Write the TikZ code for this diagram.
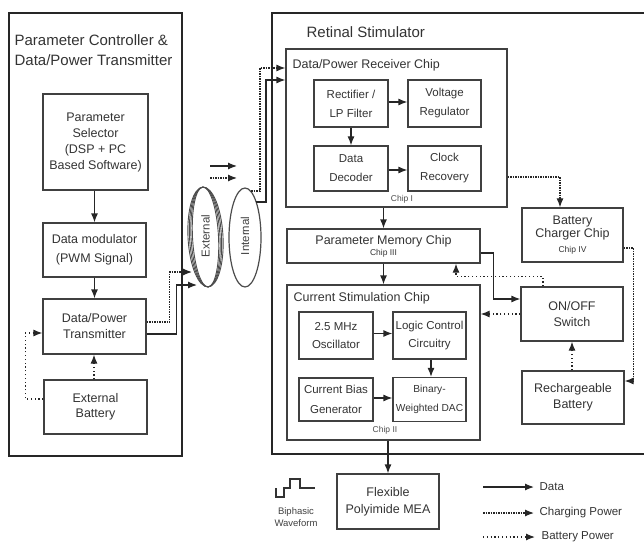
\documentclass[tikz,border=0pt]{standalone}
\usepackage{fontspec}
\setmainfont{Liberation Sans}
\usetikzlibrary{arrows.meta}

\begin{document}
\begin{tikzpicture}[x=1pt,y=-1pt,line width=1.2pt,
  >={Latex[length=9pt,width=7pt]},
  ctrlbox/.style={draw=black!85,line width=2.4pt,inner sep=0pt},
  blk/.style={draw=black!75,line width=1.2pt,align=center,inner sep=0pt,text=black!80,font=\fontsize{12.5}{16}\selectfont},
  subblk/.style={blk,font=\fontsize{11.5}{19}\selectfont},
  ttl/.style={anchor=west,align=left,inner sep=0pt,text=black!80,font=\fontsize{15}{20}\selectfont},
  chiptitle/.style={anchor=west,inner sep=0pt,text=black!80,font=\fontsize{12.5}{15}\selectfont},
  chiptag/.style={inner sep=0pt,text=black!70,font=\fontsize{8.5}{10}\selectfont},
  coiltxt/.style={rotate=90,inner sep=0pt,text=black!75,font=\fontsize{11.5}{13}\selectfont},
  legtxt/.style={anchor=west,inner sep=0pt,text=black!80,font=\fontsize{11.5}{13}\selectfont},
  datalink/.style={->,draw=black!85},
  chargelink/.style={->,draw=black!85,dash pattern=on 1.5pt off 1pt},
  battlink/.style={->,draw=black!85,dash pattern=on 1.2pt off 2.6pt}]
\clip (0,0) rectangle (644,545);
\node[ctrlbox,minimum width=173,minimum height=443] (ctrl) at (95.5,234.5) {};
\node[ctrlbox,minimum width=380,minimum height=441] (retina) at (462,233.5) {};
\node[ttl] (ctrlT) at (14,50) {Parameter Controller \&\\Data/Power Transmitter};
\node[ttl] (retinaT) at (306,32) {Retinal Stimulator};
\node[blk,minimum width=105,minimum height=96] (sel) at (95.5,142) {Parameter\\Selector\\(DSP + PC\\Based Software)};
\node[blk,minimum width=103,minimum height=54,font=\fontsize{12.5}{19}\selectfont] (mod) at (94.5,250) {Data modulator\\(PWM Signal)};
\node[blk,minimum width=103,minimum height=55] (tx) at (94.5,326.5) {Data/Power\\Transmitter};
\node[blk,minimum width=103,minimum height=54,font=\fontsize{12.5}{15}\selectfont] (bat) at (95.5,407) {External\\Battery};
\node[blk,minimum width=221,minimum height=158] (rx) at (396.5,128) {};
\node[chiptitle] (rxT) at (292,65) {Data/Power Receiver Chip};
\node[chiptag] (rxTag) at (402,199) {Chip I};
\node[subblk,minimum width=74,minimum height=47] (rect) at (351,103.5) {Rectifier /\\LP Filter};
\node[subblk,minimum width=73,minimum height=47] (vreg) at (444.5,103.5) {Voltage\\Regulator};
\node[subblk,minimum width=74,minimum height=45] (dec) at (351,168.5) {Data\\Decoder};
\node[subblk,minimum width=73,minimum height=45] (clk) at (444.5,168.5) {Clock\\Recovery};
\node[blk,minimum width=193,minimum height=34] (mem) at (383.5,246) {Parameter Memory Chip\\[-5pt]{\fontsize{8.5}{10}\selectfont Chip III}};
\node[blk,minimum width=193,minimum height=155] (stim) at (383.5,362.5) {};
\node[chiptitle] (stimT) at (293,298) {Current Stimulation Chip};
\node[chiptag] (stimTag) at (385,430) {Chip II};
\node[subblk,minimum width=74,minimum height=47,font=\fontsize{11.5}{18}\selectfont] (osc) at (336,335.5) {2.5 MHz\\Oscillator};
\node[subblk,minimum width=73,minimum height=47,font=\fontsize{11.5}{18}\selectfont] (logic) at (429.5,335.5) {Logic Control\\Circuitry};
\node[subblk,minimum width=74,minimum height=43,font=\fontsize{11.5}{20}\selectfont] (bias) at (336,399.5) {Current Bias\\Generator};
\node[subblk,minimum width=73,minimum height=44,font=\fontsize{10.2}{19}\selectfont] (dac) at (429.5,399.5) {Binary-\\Weighted DAC};
\node[blk,minimum width=101,minimum height=54,font=\fontsize{12.5}{13.5}\selectfont] (chg) at (572.5,235) {Battery\\Charger Chip\\[1pt]{\fontsize{8.5}{10}\selectfont Chip IV}};
\node[blk,minimum width=102,minimum height=54] (sw) at (572,314) {ON/OFF\\Switch};
\node[blk,minimum width=102,minimum height=53] (rbat) at (573,397.5) {Rechargeable\\Battery};
\node[blk,minimum width=102,minimum height=55,font=\fontsize{12.5}{17}\selectfont] (mea) at (388,501.5) {Flexible\\Polyimide MEA};
\foreach \rr in {17.5,16,14.5,13}
  \draw[black!70,line width=0.9pt,rotate around={3:(205.5,237)}] (205.5,237) ellipse [x radius=\rr,y radius=50];
\draw[black!70,line width=1.2pt] (245,237.5) ellipse [x radius=16,y radius=49.5];
\node[coiltxt] (extT) at (205.5,236) {External};
\node[coiltxt] (intT) at (245,236) {Internal};
\coordinate (extA) at (192,272);
\coordinate (extB) at (197,285);
\coordinate (intA) at (251,191);
\coordinate (intB) at (256,202);
\coordinate (fluxA) at (210,166);
\coordinate (fluxB) at (210,178);
\draw[datalink] (mod.north |- sel.south) -- (mod.north);
\draw[datalink] (mod.south) -- (tx.north);
\draw[battlink] ([xshift=-1.5pt]bat.north) -- ([xshift=-1.5pt]bat.north |- tx.south);
\draw[battlink] ([yshift=8pt]bat.west) -- ++(-18,0) |- ([yshift=-6.5pt]tx.west);
\draw[chargelink] ([yshift=4.5pt]tx.east) -- ++(23,0) |- (extA);
\draw[datalink] ([yshift=-7.5pt]tx.east) -- ++(30,0) |- (extB);
\draw[datalink] (fluxA) -- ++(27,0);
\draw[chargelink] (fluxB) -- ++(27,0);
\draw[chargelink] (intA) -- ++(9,0) |- ([yshift=60pt]rx.west);
\draw[datalink] (intB) -- ++(10,0) |- ([yshift=48pt]rx.west);
\draw[datalink] ([yshift=1.5pt]rect.east) -- ([yshift=1.5pt]vreg.west);
\draw[datalink] (rect.south) -- (dec.north);
\draw[datalink] ([yshift=-1.5pt]dec.east) -- ([yshift=-1.5pt]clk.west);
\draw[chargelink] ([yshift=-49pt]rx.east) -| ([xshift=-12.5pt]chg.north);
\draw[datalink] (mem.north |- rx.south) -- (mem.north);
\draw[datalink] (mem.south) -- (stim.north);
\draw[datalink] ([yshift=-7pt]mem.east) -- ++(13,0) |- ([yshift=15pt]sw.west);
\draw[battlink] ([xshift=-29pt]sw.north) -- ++(0,-10) -| ([xshift=72.5pt]mem.south);
\draw[battlink] (sw.west) -- (sw.west -| stim.east);
\draw[battlink] (sw.south |- rbat.north) -- (sw.south);
\draw[chargelink] ([yshift=-13pt]chg.east) -- ++(10,0) |- ([yshift=16.5pt]rbat.east);
\draw[datalink] ([yshift=2pt]osc.east) -- ([yshift=2pt]logic.west);
\draw[datalink] ([xshift=1.5pt]logic.south) -- ([xshift=1.5pt]dac.north);
\draw[datalink] ([yshift=1.5pt]bias.east) -- ([yshift=1.5pt]dac.west);
\draw[datalink] (mea.north |- stim.south) -- (mea.north);
\draw[black!80,line width=1.1pt] (276,488) -- (276,497) -- (284,497) -- (284,488) -- (290,488) -- (290,479) -- (300,479) -- (300,488) -- (315,488);
\node[inner sep=0pt,align=center,text=black!75,font=\fontsize{9.5}{12}\selectfont] (waveT) at (296,517) {Biphasic\\Waveform};
\node[legtxt] (lgData) at (539,487) {Data};
\node[legtxt] (lgCharge) at (539,513) {Charging Power};
\node[legtxt] (lgBatt) at (541,537) {Battery Power};
\draw[datalink] ([xshift=-56pt]lgData.west) -- ([xshift=-5pt]lgData.west);
\draw[chargelink] ([xshift=-56pt]lgCharge.west) -- ([xshift=-5pt]lgCharge.west);
\draw[battlink] ([xshift=-58pt]lgBatt.west) -- ([xshift=-6pt]lgBatt.west);
\end{tikzpicture}
\end{document}
